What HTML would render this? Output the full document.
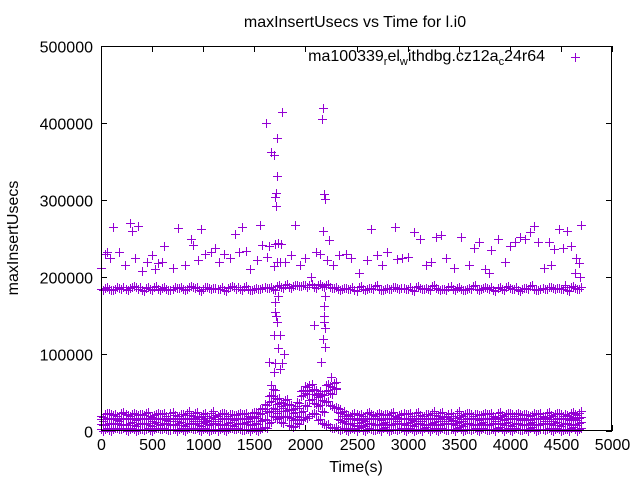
<!DOCTYPE html>
<html><head><meta charset="utf-8"><style>
html,body{margin:0;padding:0;background:#fff;}
svg{display:block;font-family:"Liberation Sans",sans-serif;}
</style></head><body>
<svg id="chart" width="640" height="480" viewBox="0 0 640 480">
<rect width="640" height="480" fill="#fff"/>
<text x="355" y="27" font-size="16" text-anchor="middle">maxInsertUsecs vs Time for l.i0</text>
<text x="18" y="238" font-size="16" text-anchor="middle" transform="rotate(-90 18 238)">maxInsertUsecs</text>
<text x="356" y="472" font-size="16" text-anchor="middle">Time(s)</text>
<g id="ticks"></g>
<g id="marks"></g>
<rect x="101.5" y="46.5" width="510" height="384" fill="none" stroke="#000" stroke-width="1"/>
<g>
<text x="545" y="61" font-size="16" text-anchor="end">ma100339<tspan font-size="11" dy="4">r</tspan><tspan dy="-4">el</tspan><tspan font-size="11" dy="4">w</tspan><tspan dy="-4">ithdbg.cz12a</tspan><tspan font-size="11" dy="4">c</tspan><tspan dy="-4">24r64</tspan></text>
<path d="M571 57.5h9M575.5 53v9" stroke="#9400d3" stroke-width="1"/>
</g>
</svg>
<script>
// data (values in units of 1000 usecs)
const xTicks = [0,500,1000,1500,2000,2500,3000,3500,4000,4500,5000];
const yTicks = [0,100000,200000,300000,400000,500000];
const bandTimes = [0,40,80,120,160,200,240,280,320,360,400,440,480,520,560,600,640,680,720,760,800,840,880,920,960,1000,1040,1080,1120,1160,1200,1240,1280,1320,1360,1400,1440,1480,1520,1560,1600,1640,1680,1720,1760,1800,1840,1880,1920,1960,2000,2040,2080,2120,2160,2200,2240,2280,2320,2360,2400,2440,2480,2520,2560,2600,2640,2680,2720,2760,2800,2840,2880,2920,2960,3000,3040,3080,3120,3160,3200,3240,3280,3320,3360,3400,3440,3480,3520,3560,3600,3640,3680,3720,3760,3800,3840,3880,3920,3960,4000,4040,4080,4120,4160,4200,4240,4280,4320,4360,4400,4440,4480,4520,4560,4600,4640,4680];
const midBand = [184,186,185,183,187,185,184,186,188,185,183,186,185,187,184,186,185,183,187,186,184,185,188,186,183,185,187,184,186,185,183,186,188,185,184,187,185,183,186,184,187,186,185,188,187,189,187,188,190,188,189,190,187,189,188,190,187,186,185,184,186,185,183,187,185,184,186,188,185,183,186,185,187,184,186,185,183,187,186,184,185,188,186,183,185,187,184,186,185,183,186,188,185,184,187,185,183,186,184,187,186,185,183,184,186,188,185,183,186,185,187,184,186,185,183,187,186,185];
const lowBand = [2,3,1,2,4,2,1,3,2,1,3,2,1,2,4,2,3,1,2,3,1,2,4,2,1,3,2,1,2,3,1,2,4,2,3,1,2,3,1,2,5,10,20,15,12,18,8,5,10,14,18,20,24,14,10,8,5,4,3,2,1,3,2,4,1,2,3,1,2,4,2,1,3,2,1,3,2,1,2,4,2,3,1,2,3,1,2,4,2,1,3,2,1,2,3,1,2,4,2,3,1,2,3,1,2,4,2,1,3,2,1,3,2,1,2,4,2,3];
const lowerMid = [9,8,10,9,11,8,9,10,8,9,10,9,8,10,9,9,10,8,9,10,8,9,10,9,8,10,9,9,10,8,9,10,8,9,11,10,9,8,11,13,16,25,30,24,20,26,18,14,20,25,34,40,36,32,26,38,34,30,16,12,10,9,8,10,8,9,10,8,9,10,9,8,10,9,9,10,8,9,10,8,9,10,9,8,10,9,9,10,8,9,10,8,9,10,9,8,10,9,9,10,8,9,10,8,9,10,9,8,10,9,9,10,8,9,10,8,9,10];
const upperMid = [15,16,17,15,14,16,17,15,16,15,17,16,15,16,17,15,14,16,15,16,17,16,15,17,15,16,14,17,15,16,17,15,16,15,17,16,15,17,19,22,28,38,45,35,32,34,29,23,32,45,50,52,48,44,40,52,50,54,25,20,17,15,16,15,14,16,17,15,16,15,17,16,15,16,17,15,14,16,15,16,17,16,15,17,15,16,14,17,15,16,17,15,16,15,17,16,15,17,16,15,17,15,16,15,16,14,17,16,15,17,15,16,17,15,16,17,16,17];
const upperLow = [20,22,24,21,19,23,22,20,24,21,22,23,20,21,24,22,19,23,21,20,22,24,21,23,20,22,19,24,21,22,23,20,22,21,24,22,20,23,25,28,35,45,55,42,38,40,35,28,38,52,58,60,55,50,48,60,58,62,30,25,22,20,24,21,19,23,22,20,24,21,22,23,20,21,24,22,19,23,21,20,22,24,21,23,20,22,19,24,21,22,23,20,22,21,24,22,20,23,21,22,24,20,23,21,22,19,24,22,20,23,21,22,24,20,21,23,22,24];
const scatterTimes = [0,40,60,90,120,180,230,280,300,330,360,400,450,500,530,560,620,700,750,820,880,950,980,1020,1080,1150,1200,1260,1310,1350,1380,1420,1460,1530,1560,1580,1620,1640,1700,1730,1760,1800,1860,1900,1950,2000,2050,2100,2170,2230,2270,2330,2400,2450,2520,2600,2640,2700,2750,2800,2880,2950,3000,3060,3120,3180,3230,3280,3330,3380,3450,3520,3600,3650,3700,3760,3820,3880,3950,4000,4050,4100,4150,4200,4240,4280,4330,4380,4430,4480,4520,4560,4600,4640,4680,4690,4700,4650,4540,4400,1720,1690,1750,2210,2140,900,600,1120,2900,3800];
const scatterVals = [212,230,232,225,265,232,215,270,260,225,266,208,220,228,210,218,240,212,264,216,250,222,262,230,232,220,230,225,256,232,265,234,210,222,268,242,226,240,243,244,243,220,228,268,215,225,200,232,260,248,215,228,230,225,205,222,262,228,215,232,265,225,226,258,250,215,220,252,255,225,212,252,215,238,245,210,235,250,220,240,245,252,250,258,266,246,212,245,236,262,238,260,240,205,218,200,268,225,190,215,220,214,220,222,230,242,220,238,224,205];
const spikeTimes = [1611,1663,1689,1725,1722,1712,1700,1714,1768,1730,1700,1702,1712,1725,1690,1755,1735,1640,1700,1770,1690,1660,2172,2160,2178,2190,2192,2180,2178,2184,2190,2172,2188,2150,2085,1790,1750,2250,2300];
const spikeVals = [400,362,359,380,331,309,304,292,414,175,167,154,149,141,125,125,108,90,88,88,77,60,419,405,308,301,175,162,149,141,134,120,109,90,138,100,80,70,55];
</script>
<script>
const X0=101,X1=612,Y0=431,Y1=46;
const sx=t=>X0+(t/5000)*(X1-X0);
const sy=v=>Y0-(v/500000)*(Y0-Y1);
const NS='http://www.w3.org/2000/svg';
const ticksG=document.getElementById('ticks');
const marksG=document.getElementById('marks');
xTicks.forEach(t=>{
  const x=Math.round(sx(t))+0.5;
  const p=document.createElementNS(NS,'path');
  p.setAttribute('d',`M${x} ${Y0}v-6M${x} ${Y1}v6`);
  p.setAttribute('stroke','#000');
  
  
  ticksG.appendChild(p);
  const tx=document.createElementNS(NS,'text');
  tx.setAttribute('x',x);tx.setAttribute('y',Y0+19);
  tx.setAttribute('font-size','16');tx.setAttribute('text-anchor','middle');
  tx.textContent=t;
  
  
  ticksG.appendChild(tx);
});
yTicks.forEach(v=>{
  const y=Math.round(sy(v))+0.5;
  const p=document.createElementNS(NS,'path');
  p.setAttribute('d',`M${X0} ${y}h6M${X1} ${y}h-6`);
  p.setAttribute('stroke','#000');
  
  
  ticksG.appendChild(p);
  const tx=document.createElementNS(NS,'text');
  tx.setAttribute('x',X0-8);tx.setAttribute('y',y+6);
  tx.setAttribute('font-size','16');tx.setAttribute('text-anchor','end');
  tx.textContent=v;
  
  
  ticksG.appendChild(tx);
});
let d='';
function add(t,vk){const x=Math.round(sx(t))+0.5,y=Math.round(sy(vk*1000))+0.5;d+=`M${x-4.5} ${y}h9M${x} ${y-4.5}v9`;}
[midBand,lowBand,lowerMid,upperMid,upperLow].forEach(arr=>{
  bandTimes.forEach((t,i)=>{add(t,arr[i]);add(t+20,arr[i]+(i%2?1.5:-1.5));});
});
scatterTimes.forEach((t,i)=>add(t,scatterVals[i]));
spikeTimes.forEach((t,i)=>add(t,spikeVals[i]));
const path=document.createElementNS(NS,'path');
path.setAttribute('d',d);
path.setAttribute('stroke','#9400d3');
path.setAttribute('stroke-width','1');
path.setAttribute('fill','none');


marksG.appendChild(path);
</script>
</body></html>
